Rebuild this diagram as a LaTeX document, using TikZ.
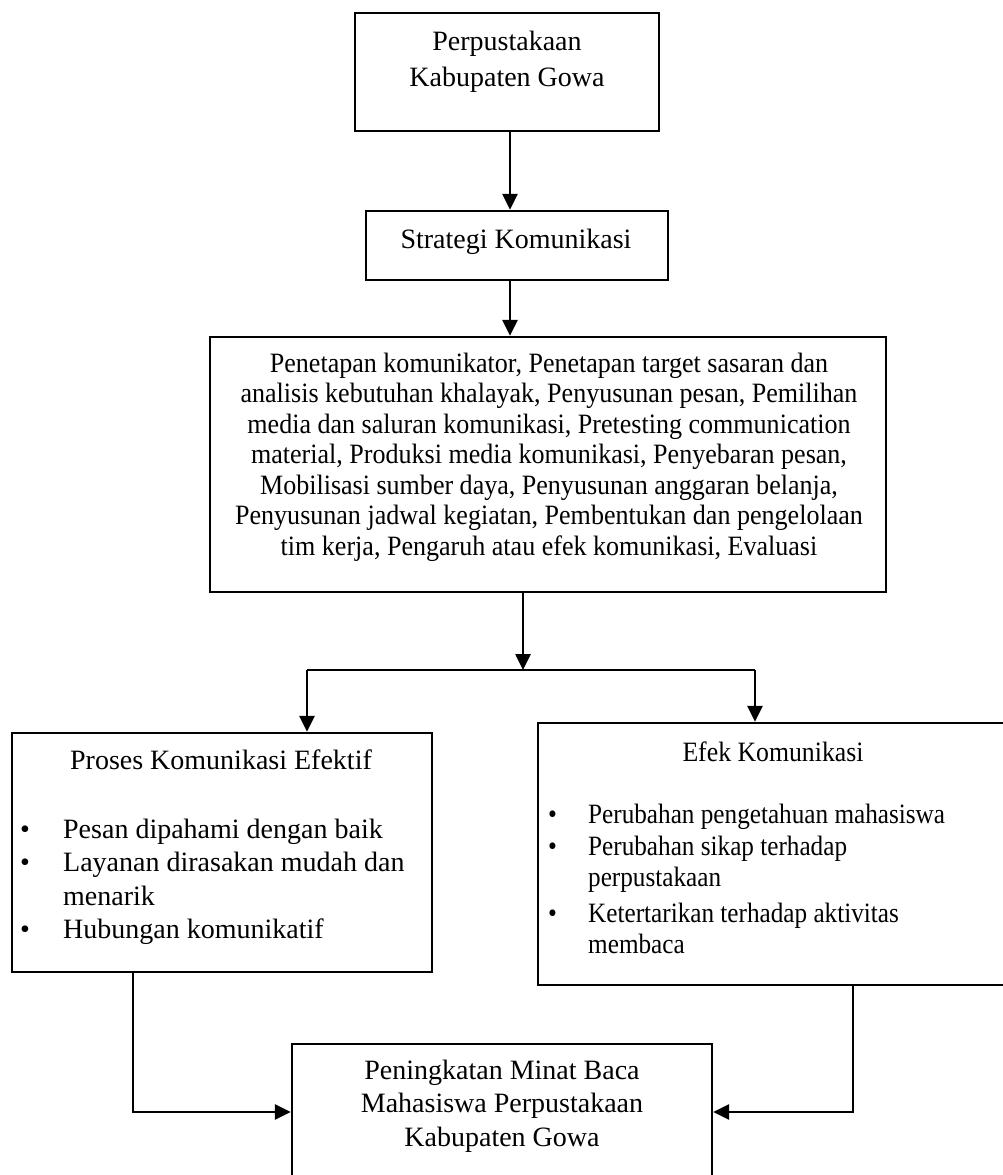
\documentclass[tikz,border=0pt]{standalone}
\usepackage{fontspec}
\setmainfont{Liberation Serif}
\usetikzlibrary{arrows.meta}
\begin{document}
\begin{tikzpicture}[x=1pt,y=-1pt,
  box/.style={draw=black, line width=2.3pt, rectangle, inner sep=0pt},
  txt/.style={inner sep=0pt, align=center},
  arr/.style={line width=2.6pt, -{Triangle[width=15pt,length=16pt]}},
  conn/.style={line width=2.6pt}
]
\useasboundingbox[fill=white] (0,0) rectangle (1003,1175);

% boxes
\node[box, minimum width=304, minimum height=118] (perp) at (507,72) {};
\node[box, minimum width=302, minimum height=69] (strat) at (517,245.5) {};
\node[box, minimum width=676, minimum height=255] (steps) at (548,464.5) {};
\node[box, minimum width=420, minimum height=239] (proses) at (222,852.5) {};
\node[box, minimum width=470, minimum height=262] (efek) at (773,854) {};
\node[box, minimum width=420, minimum height=146] (minat) at (502,1117) {};

% texts
\node[txt, font=\fontsize{28}{36}\selectfont] (perp-t) at (507,62) {Perpustakaan\\Kabupaten Gowa};
\node[txt, font=\fontsize{28}{31}\selectfont] (strat-t) at (516,242) {Strategi Komunikasi};
\node[txt, font=\fontsize{28}{30.5}\selectfont\addfontfeatures{FakeStretch=0.93}] (steps-t) at (549,457) {Penetapan komunikator, Penetapan target sasaran dan\\
analisis kebutuhan khalayak, Penyusunan pesan, Pemilihan\\
media dan saluran komunikasi, Pretesting communication\\
material, Produksi media komunikasi, Penyebaran pesan,\\
Mobilisasi sumber daya, Penyusunan anggaran belanja,\\
Penyusunan jadwal kegiatan, Pembentukan dan pengelolaan\\
tim kerja, Pengaruh atau efek komunikasi, Evaluasi};

\node[txt, font=\fontsize{28}{31}\selectfont] (proses-t) at (221,760) {Proses Komunikasi Efektif};
\node[txt, anchor=north west, align=left, font=\fontsize{28}{33.3}\selectfont] (proses-l) at (20,819)
 {\makebox[43pt][l]{\textbullet}Pesan dipahami dengan baik\\
  \makebox[43pt][l]{\textbullet}Layanan dirasakan mudah dan\\
  \hspace*{43pt}menarik\\
  \makebox[43pt][l]{\textbullet}Hubungan komunikatif};

\node[txt, font=\fontsize{28}{31}\selectfont\addfontfeatures{FakeStretch=0.92}] (efek-t) at (773,752) {Efek Komunikasi};
\node[txt, anchor=north west, align=left, font=\fontsize{28}{31.5}\selectfont\addfontfeatures{FakeStretch=0.9}] (efek-l) at (548,804)
 {\makebox[40pt][l]{\textbullet}Perubahan pengetahuan mahasiswa\\
  \makebox[40pt][l]{\textbullet}Perubahan sikap terhadap\\
  \hspace*{40pt}perpustakaan\\[4pt]
  \makebox[40pt][l]{\textbullet}Ketertarikan terhadap aktivitas\\
  \hspace*{40pt}membaca};

\node[txt, font=\fontsize{28}{33.5}\selectfont] (minat-t) at (502,1106) {Peningkatan Minat Baca\\Mahasiswa Perpustakaan\\Kabupaten Gowa};

% helper coordinates
\coordinate (c1) at (510,0);
\coordinate (j) at (523,670);
\coordinate (jl) at (307,670);
\coordinate (jr) at (755,670);
\coordinate (cl) at (133,1112);
\coordinate (cr) at (853,1112);

% connectors
\draw[arr] (perp.south -| c1) -- (strat.north -| c1);
\draw[arr] (strat.south -| c1) -- (steps.north -| c1);
\draw[arr] (steps.south -| j) -- (j);
\draw[conn] (jl) -- (jr);
\draw[arr] (jl) -- (proses.north -| jl);
\draw[arr] (jr) -- (efek.north -| jr);
\draw[arr] (proses.south -| cl) |- (minat.west |- cl);
\draw[arr] (efek.south -| cr) |- (minat.east |- cr);
\end{tikzpicture}
\end{document}
